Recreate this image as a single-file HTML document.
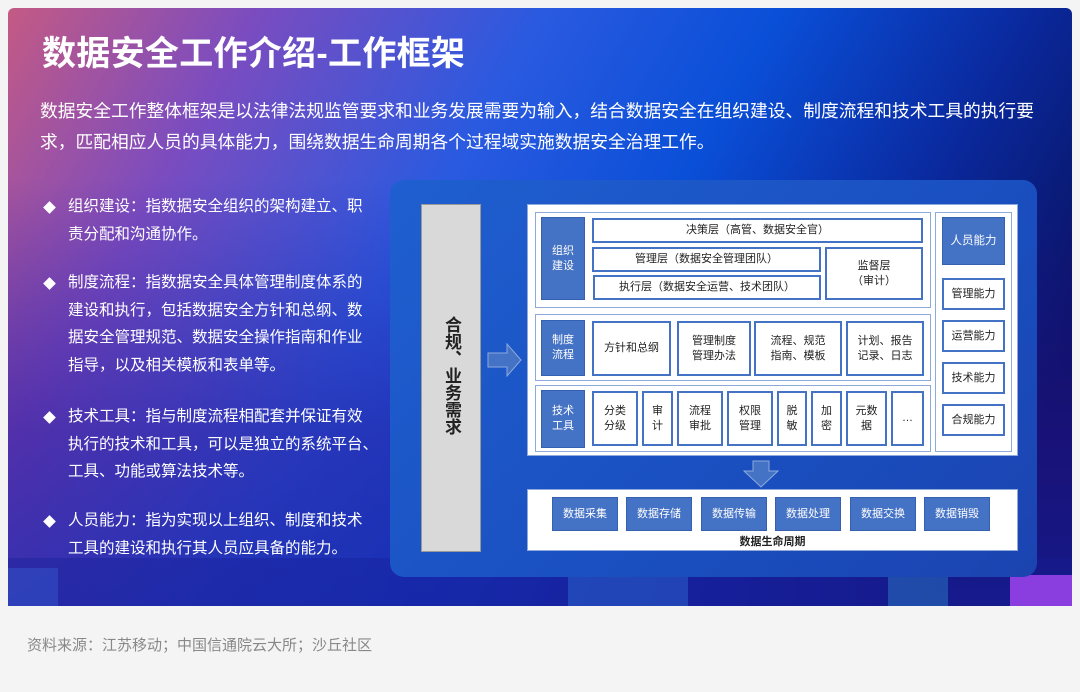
<!DOCTYPE html>
<html><head><meta charset="utf-8"><style>
*{margin:0;padding:0;box-sizing:border-box}
body{width:1080px;height:692px;background:#f4f4f4;position:relative;overflow:hidden;font-family:"Liberation Sans","Noto Sans CJK SC",sans-serif}
.a{position:absolute}
#panel{left:8px;top:8px;width:1064px;height:598px;border-radius:6px 6px 0 0;overflow:hidden;
background:linear-gradient(120deg,#c45a84 0%,#7a4cc0 18%,#2a5ae0 38%,#0a4fd8 55%,#0a2aa0 72%,#08105a 90%)}
#shade{left:0;top:170px;width:1064px;height:428px;background:linear-gradient(180deg,rgba(40,20,150,0) 0%,rgba(40,20,150,.5) 60%,rgba(30,30,160,.65) 100%)}
.w{color:#fff}
.bl{font-size:15.5px;line-height:27.5px;color:#fff;left:68px}
.dm{left:45px;width:9px;height:9px;background:#fff;transform:rotate(45deg)}
.bx{position:absolute;background:#fff;border:2px solid #4472c4;font-size:11px;color:#222;display:flex;align-items:center;justify-content:center;text-align:center;line-height:15px}
.lb{position:absolute;background:#4472c4;color:#fff;font-size:11px;display:flex;align-items:center;justify-content:center;text-align:center;line-height:15px;border:1px solid #3560b0}
.sec{position:absolute;border:1px solid #8eaadb;background:#fff}
</style></head><body>
<div id="panel" class="a">
<div id="shade" class="a"></div>
<div class="a" style="left:0;top:550px;width:1064px;height:48px;background:rgba(20,30,150,.35)"></div>
<div class="a" style="left:0;top:560px;width:50px;height:38px;background:rgba(60,120,230,.3)"></div>
<div class="a" style="left:560px;top:562px;width:120px;height:36px;background:rgba(60,150,240,.3)"></div>
<div class="a" style="left:880px;top:562px;width:60px;height:36px;background:rgba(60,190,240,.3)"></div>
<div class="a" style="left:1002px;top:567px;width:62px;height:31px;background:#8a3ee0"></div>
</div>
<div class="a w" style="left:42px;top:26px;font-size:34px;font-weight:bold;letter-spacing:0.3px;white-space:nowrap">数据安全工作介绍-工作框架</div>
<div class="a w" style="left:40px;top:96px;font-size:17.75px;line-height:31px;white-space:nowrap">数据安全工作整体框架是以法律法规监管要求和业务发展需要为输入，结合数据安全在组织建设、制度流程和技术工具的执行要<br>求，匹配相应人员的具体能力，围绕数据生命周期各个过程域实施数据安全治理工作。</div>

<div class="a dm" style="top:203px"></div>
<div class="a bl" style="top:193px">组织建设：指数据安全组织的架构建立、职<br>责分配和沟通协作。</div>
<div class="a dm" style="top:279px"></div>
<div class="a bl" style="top:269px">制度流程：指数据安全具体管理制度体系的<br>建设和执行，包括数据安全方针和总纲、数<br>据安全管理规范、数据安全操作指南和作业<br>指导，以及相关模板和表单等。</div>
<div class="a dm" style="top:413px"></div>
<div class="a bl" style="top:403px">技术工具：指与制度流程相配套并保证有效<br>执行的技术和工具，可以是独立的系统平台、<br>工具、功能或算法技术等。</div>
<div class="a dm" style="top:517px"></div>
<div class="a bl" style="top:507px">人员能力：指为实现以上组织、制度和技术<br>工具的建设和执行其人员应具备的能力。</div>

<!-- diagram -->
<div class="a" style="left:390px;top:180px;width:647px;height:397px;border-radius:14px;background:linear-gradient(135deg,#1f5fd0,#1a4fc0 60%,#1b44b0)"></div>
<div class="a" style="left:421px;top:204px;width:60px;height:348px;background:#d9d9d9;border:1px solid #999"></div>
<div class="a" style="left:441px;top:316px;writing-mode:vertical-rl;font-size:17px;line-height:20px;color:#222;font-weight:bold;white-space:nowrap">合规、业务需求</div>
<svg class="a" style="left:487px;top:343px" width="36" height="34"><polygon points="1,10 20,10 20,1 34,17 20,33 20,24 1,24" fill="#4472c4" stroke="#8eaadb" stroke-width="1"/></svg>
<div class="a" style="left:527px;top:204px;width:491px;height:252px;background:#fff;border:1px solid #8eaadb"></div>
<div class="sec" style="left:535px;top:212px;width:396px;height:96px"></div>
<div class="sec" style="left:535px;top:314px;width:396px;height:67px"></div>
<div class="sec" style="left:535px;top:385px;width:396px;height:67px"></div>
<div class="sec" style="left:935px;top:212px;width:77px;height:240px"></div>
<div class="lb" style="left:541px;top:217px;width:44px;height:83px">组织<br>建设</div>
<div class="bx" style="left:592px;top:218px;width:331px;height:25px">决策层（高管、数据安全官）</div>
<div class="bx" style="left:592px;top:247px;width:229px;height:25px">管理层（数据安全管理团队）</div>
<div class="bx" style="left:593px;top:275px;width:228px;height:25px">执行层（数据安全运营、技术团队）</div>
<div class="bx" style="left:825px;top:247px;width:98px;height:53px">监督层<br>（审计）</div>
<div class="lb" style="left:541px;top:320px;width:44px;height:56px">制度<br>流程</div>
<div class="bx" style="left:592px;top:321px;width:79px;height:55px">方针和总纲</div>
<div class="bx" style="left:677px;top:321px;width:74px;height:55px">管理制度<br>管理办法</div>
<div class="bx" style="left:754px;top:321px;width:88px;height:55px">流程、规范<br>指南、模板</div>
<div class="bx" style="left:846px;top:321px;width:78px;height:55px">计划、报告<br>记录、日志</div>
<div class="lb" style="left:541px;top:390px;width:44px;height:58px">技术<br>工具</div>
<div class="bx" style="left:592px;top:391px;width:46px;height:55px">分类<br>分级</div>
<div class="bx" style="left:642px;top:391px;width:31px;height:55px">审<br>计</div>
<div class="bx" style="left:677px;top:391px;width:46px;height:55px">流程<br>审批</div>
<div class="bx" style="left:727px;top:391px;width:46px;height:55px">权限<br>管理</div>
<div class="bx" style="left:777px;top:391px;width:30px;height:55px">脱<br>敏</div>
<div class="bx" style="left:811px;top:391px;width:31px;height:55px">加<br>密</div>
<div class="bx" style="left:846px;top:391px;width:41px;height:55px">元数<br>据</div>
<div class="bx" style="left:891px;top:391px;width:33px;height:55px">…</div>
<div class="lb" style="left:942px;top:217px;width:63px;height:48px;font-size:11.5px">人员能力</div>
<div class="bx" style="left:942px;top:278px;width:63px;height:32px">管理能力</div>
<div class="bx" style="left:942px;top:320px;width:63px;height:32px">运营能力</div>
<div class="bx" style="left:942px;top:362px;width:63px;height:32px">技术能力</div>
<div class="bx" style="left:942px;top:404px;width:63px;height:32px">合规能力</div>
<svg class="a" style="left:743px;top:460px" width="36" height="28"><polygon points="10,1 26,1 26,11 35,11 18,27 1,11 10,11" fill="#4472c4" stroke="#8eaadb" stroke-width="1"/></svg>
<div class="a" style="left:527px;top:489px;width:491px;height:62px;background:#fff;border:1px solid #8eaadb"></div>
<div class="lb" style="left:552px;top:497px;width:66px;height:34px">数据采集</div>
<div class="lb" style="left:626px;top:497px;width:66px;height:34px">数据存储</div>
<div class="lb" style="left:701px;top:497px;width:66px;height:34px">数据传输</div>
<div class="lb" style="left:775px;top:497px;width:66px;height:34px">数据处理</div>
<div class="lb" style="left:850px;top:497px;width:66px;height:34px">数据交换</div>
<div class="lb" style="left:924px;top:497px;width:66px;height:34px">数据销毁</div>
<div class="a" style="left:527px;top:533px;width:491px;text-align:center;font-size:11px;color:#222;font-weight:bold">数据生命周期</div>

<div class="a" style="left:27px;top:634px;font-size:15px;color:#888">资料来源：江苏移动；中国信通院云大所；沙丘社区</div>
</body></html>
